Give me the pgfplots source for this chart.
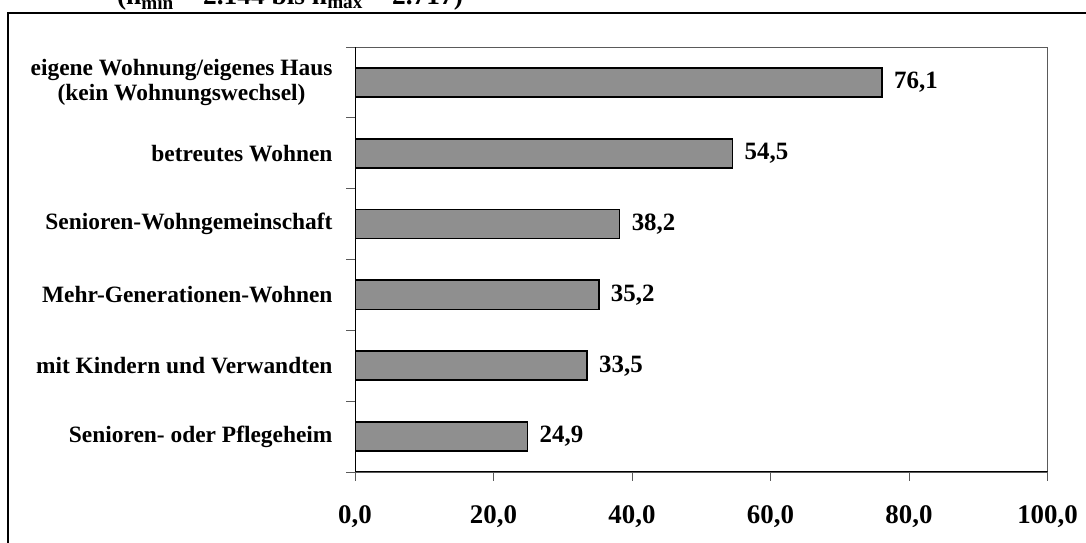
\documentclass[border=0pt]{standalone}
\usepackage{pgfplots}
\pgfplotsset{compat=1.18}
\usepackage{fontspec}
\setmainfont{Liberation Serif}
\definecolor{barfill}{HTML}{8F8F8F}
\definecolor{frameg}{HTML}{5A5A5A}

\begin{document}
\begin{tikzpicture}[x=1bp,y=1bp]
  % outer frame, cut off at the right and bottom
  \draw[line width=2.2bp] (8,-30) -- (8,530) -- (1130,530);
  % title, mostly cut off at the top
  \node[anchor=base, font=\bfseries\fontsize{27.5}{32}\selectfont] at (290,538)
    {(n\textsubscript{min} = 2.144 bis n\textsubscript{max} = 2.717)};
  \begin{axis}[
      at={(355bp,71bp)}, anchor=south west,
      scale only axis, width=692.5bp, height=425bp,
      xbar, bar width=0.41,
      xmin=0, xmax=100, ymin=-0.5, ymax=5.5,
      axis line style={frameg, line width=0.9bp},
      tick align=outside, major tick length=9bp,
      tick style={frameg, line width=0.9bp},
      xtick pos=bottom, ytick pos=left,
      xtick={0,20,...,100},
      xticklabels={{0,0},{20,0},{40,0},{60,0},{80,0},{100,0}},
      xticklabel style={font=\bfseries\fontsize{27}{32}\selectfont, yshift=-21bp},
      ytick={-0.5,0.5,...,5.5},
      y tick label as interval,
      yticklabels={{Senioren- oder Pflegeheim},{mit Kindern und Verwandten},
        {Mehr-Generationen-Wohnen},{Senioren-Wohngemeinschaft},{betreutes Wohnen},
        {eigene Wohnung/eigenes Haus\\(kein Wohnungswechsel)}},
      yticklabel style={font=\bfseries\fontsize{23.5}{25}\selectfont, align=center, xshift=-10bp},
      nodes near coords={\pgfmathprintnumber[fixed,fixed zerofill,precision=1,use comma]{\pgfplotspointmeta}},
      nodes near coords style={font=\bfseries\fontsize{25}{28}\selectfont, anchor=west, xshift=8bp,
        /pgf/number format/assume math mode=true},
      point meta=x,
    ]
    \addplot[draw=black, line width=1.8bp, fill=barfill] coordinates {
      (24.9,0) (33.5,1) (35.2,2) (38.2,3) (54.5,4) (76.1,5)
    };
    \draw[black, line width=2bp] (rel axis cs:0,0) -- (rel axis cs:0,1);
    \draw[black, line width=1.5bp] (rel axis cs:0,0) -- (rel axis cs:1,0);
  \end{axis}
  \pgfresetboundingbox
  \useasboundingbox (0,0) rectangle (1086,543);
\end{tikzpicture}
\end{document}
